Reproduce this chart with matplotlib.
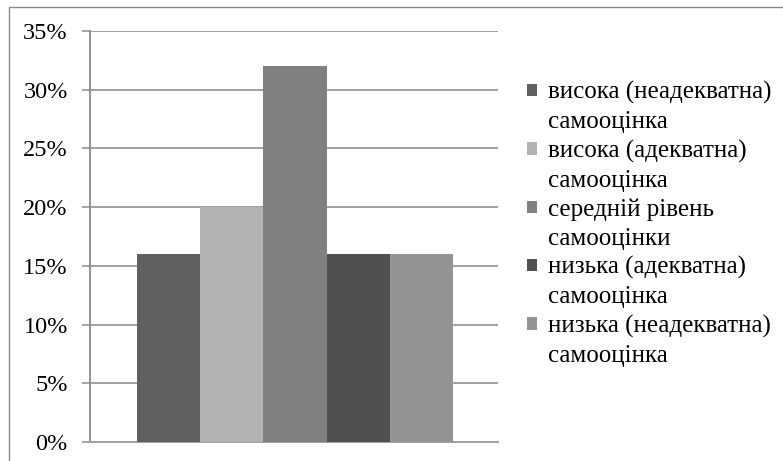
import matplotlib
matplotlib.use("Agg")
import matplotlib.pyplot as plt
import matplotlib.ticker as mtick
from matplotlib.patches import Rectangle

# Data
categories = [
    "висока (неадекватна)\nсамооцінка",
    "висока (адекватна)\nсамооцінка",
    "середній рівень\nсамооцінки",
    "низька (адекватна)\nсамооцінка",
    "низька (неадекватна)\nсамооцінка",
]
values = [16, 20, 32, 16, 16]
colors = ["#606060", "#b2b2b2", "#808080", "#505050", "#949494"]
y_ticks = [0, 5, 10, 15, 20, 25, 30, 35]

W, H = 783, 461
plt.rcParams['font.family'] = ['Liberation Serif', 'DejaVu Serif']
FS = 18

fig = plt.figure(figsize=(W / 100, H / 100), dpi=100)

# Outer chart border (only left/top visible in the reference)
fig.patches.append(Rectangle((9 / W, -0.05), 1.2, 1 - 7 / H + 0.05,
                             transform=fig.transFigure, fill=False,
                             edgecolor="#8a8a8a", linewidth=1.0))

ax = fig.add_axes([90 / W, (H - 442) / H, (498 - 90) / W, (442 - 31) / H])

x = list(range(len(values)))
ax.bar(x, values, width=1.0, color=colors, zorder=3)

ax.set_xlim(-1.24, len(values) - 0.5 + 0.71)
ax.set_ylim(0, 35)
ax.set_yticks(y_ticks)
ax.yaxis.set_major_formatter(mtick.PercentFormatter(decimals=0))
ax.set_xticks([])

ax.grid(axis="y", color="#a0a0a0", linewidth=1.4, zorder=0)
for side in ["top", "right"]:
    ax.spines[side].set_visible(False)
ax.spines["left"].set_color("#8a8a8a")
ax.spines["bottom"].set_color("#a0a0a0")
ax.spines["left"].set_linewidth(1.3)
ax.spines["bottom"].set_linewidth(1.4)
ax.tick_params(axis="y", direction="out", length=6, width=1.1, color="#8a8a8a",
               labelsize=17.5, pad=10)

# Legend: one row per text line, colour square on the first line of each entry
handles, labels = [], []
for cat, col in zip(categories, colors):
    for i, line in enumerate(cat.split("\n")):
        if i == 0:
            handles.append(Rectangle((0, 0), 1, 1, facecolor=col, edgecolor="none"))
        else:
            handles.append(Rectangle((0, 0), 1, 1, facecolor="none", edgecolor="none"))
        labels.append(line)

fig.legend(handles, labels, loc="center left",
           bbox_to_anchor=(527 / W, 1 - 224 / H),
           frameon=False, fontsize=FS, borderpad=0, borderaxespad=0,
           handlelength=0.4, handleheight=0.4, handletextpad=0.45,
           labelspacing=0.27)

fig.savefig("out.png", dpi=100)
